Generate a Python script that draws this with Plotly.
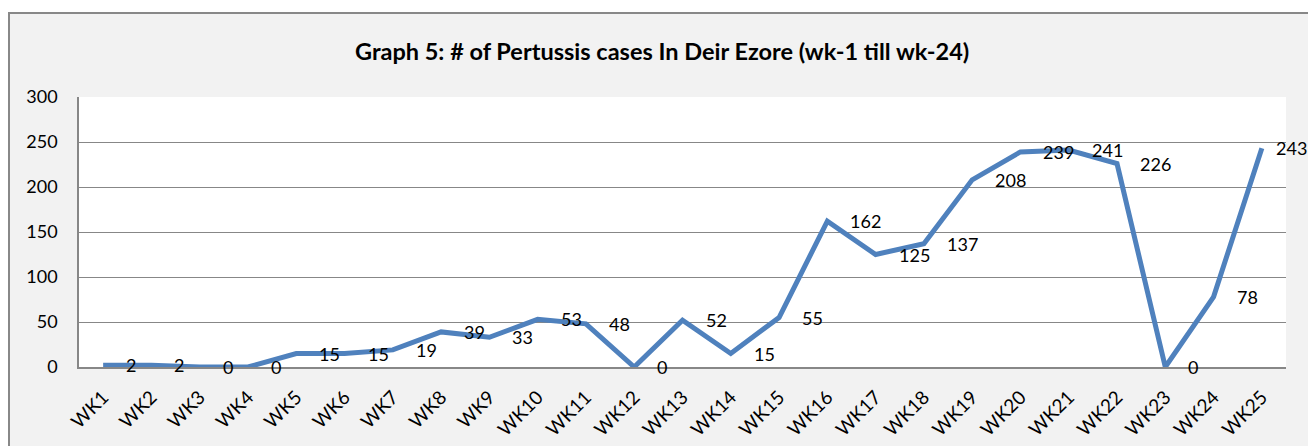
import plotly.graph_objects as go

weeks = [f"WK{i}" for i in range(1, 26)]
cases = [2, 2, 0, 0, 15, 15, 19, 39, 33, 53, 48, 0, 52, 15, 55,
         162, 125, 137, 208, 239, 241, 226, 0, 78, 243]
y_ticks = [0, 50, 100, 150, 200, 250, 300]
title_text = "Graph 5: # of Pertussis cases In Deir Ezore (wk-1 till wk-24)"

FONT = "Lato"
W, H = 1308, 446
L, R, T, B = 79, 22, 97, 79
pw, ph = W - L - R, H - T - B

def px_x(px):
    return (px - L) / pw

def px_y(py):
    return (H - B - py) / ph

fig = go.Figure()
fig.add_trace(go.Scatter(
    x=weeks, y=cases, mode="lines",
    line=dict(color="#4F81BD", width=5),
    hoverinfo="skip", showlegend=False,
))

annotations = []
n = len(weeks)
for i, (w, v) in enumerate(zip(weeks, cases)):
    annotations.append(dict(
        x=w, y=v, xref="x", yref="y", text=str(v), showarrow=False,
        xshift=(12 if i == n - 1 else 21), xanchor="left", yanchor="middle",
        font=dict(family=FONT, size=18, color="#000000"),
    ))
annotations.append(dict(
    x=px_x(662), y=px_y(51), xref="paper", yref="paper",
    text=f"<b>{title_text}</b>", showarrow=False,
    xanchor="center", yanchor="middle",
    font=dict(family=FONT, size=23.5, color="#000000"),
))

shapes = [
    dict(type="rect", xref="paper", yref="paper",
         x0=px_x(9), x1=px_x(1330), y0=px_y(470), y1=px_y(13),
         fillcolor="#F2F2F2", line=dict(color="#888888", width=2),
         layer="below"),
    dict(type="rect", xref="paper", yref="paper",
         x0=0, x1=1, y0=0, y1=1,
         fillcolor="#FFFFFF", line=dict(width=0), layer="below"),
]

fig.update_layout(
    width=W, height=H,
    margin=dict(l=L, r=R, t=T, b=B, pad=0, autoexpand=False),
    paper_bgcolor="#FFFFFF", plot_bgcolor="#FFFFFF",
    font=dict(family=FONT, size=18, color="#000000"),
    showlegend=False,
    annotations=annotations, shapes=shapes,
    xaxis=dict(
        type="category", range=[-0.5, 24.5], tickangle=-45,
        showgrid=False, showline=True, linecolor="#878787", linewidth=1.5,
        ticks="", ticklabelstandoff=10, automargin=False,
        tickfont=dict(family=FONT, size=19), zeroline=False,
    ),
    yaxis=dict(
        range=[0, 300], tickvals=y_ticks, ticktext=[str(t) for t in y_ticks],
        showgrid=True, gridcolor="#878787", gridwidth=1.3,
        showline=True, linecolor="#878787", linewidth=1.5,
        ticks="", ticklabelstandoff=16, automargin=False,
        tickfont=dict(family=FONT, size=18), zeroline=False,
    ),
)

fig.write_html("out.html", config={"displayModeBar": False},
               post_script="document.body.style.margin='0px';")
